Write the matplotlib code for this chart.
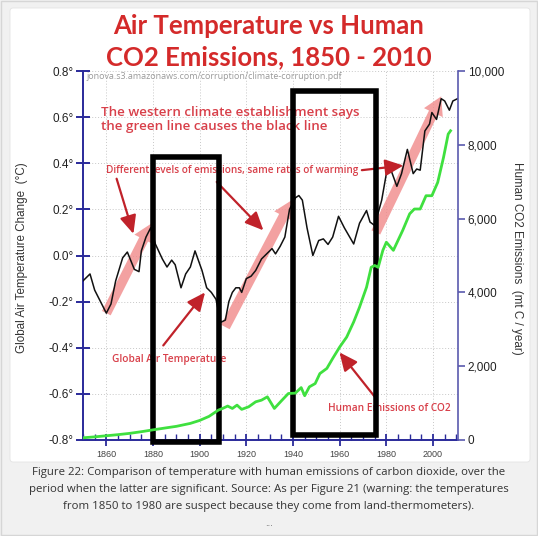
import matplotlib
matplotlib.use("Agg")
import matplotlib.pyplot as plt
from matplotlib.patches import Rectangle, FancyBboxPatch
from matplotlib.ticker import MultipleLocator, FuncFormatter

# global air temperature change (deg C)
temp_years = [1850, 1853, 1855, 1858, 1860, 1862, 1864, 1867, 1869, 1872,
              1874, 1875, 1877, 1879, 1881, 1884, 1886, 1888, 1889.5, 1892,
              1894, 1896, 1898, 1901, 1903, 1905, 1907, 1909, 1911, 1912.5,
              1914, 1915.5, 1917, 1918, 1920, 1922, 1924, 1926.5, 1929, 1931,
              1932.5, 1934.5, 1936.5, 1938.5, 1941, 1942.5, 1944, 1946, 1948.5, 1951,
              1953, 1955, 1957, 1959.5, 1962, 1966, 1968.5, 1971.5, 1973, 1975,
              1978, 1980, 1982, 1984.5, 1986.5, 1989, 1991.5, 1993, 1994.5, 1996.5,
              1998.5, 1999.5, 2001.5, 2003.5, 2005, 2007, 2008.5, 2010.5]
temp_vals = [-0.11, -0.08, -0.15, -0.21, -0.25, -0.21, -0.11, -0.01, 0.015, -0.06,
             -0.07, 0.02, 0.08, 0.12, 0.05, -0.015, -0.05, -0.02, -0.04, -0.14,
             -0.08, -0.05, 0.02, -0.065, -0.14, -0.16, -0.19, -0.29, -0.28, -0.20,
             -0.16, -0.14, -0.14, -0.16, -0.10, -0.09, -0.065, -0.015, 0.01, 0.03,
             0.007, 0.04, 0.08, 0.20, 0.25, 0.26, 0.24, 0.12, 0.0, 0.065,
             0.072, 0.048, 0.08, 0.17, 0.12, 0.05, 0.14, 0.195, 0.145, 0.13,
             0.24, 0.355, 0.37, 0.30, 0.355, 0.46, 0.355, 0.375, 0.37, 0.54,
             0.57, 0.62, 0.59, 0.68, 0.67, 0.63, 0.67, 0.68]

# human CO2 emissions (mt C / year)
co2_years = [1850, 1855, 1860, 1865, 1870, 1875, 1880, 1886, 1890, 1896,
             1900, 1904, 1908, 1910, 1912, 1914, 1916, 1918, 1921, 1924,
             1926.5, 1929, 1932, 1935, 1938, 1941, 1943.5, 1945, 1947, 1949.5,
             1951.5, 1954.5, 1957, 1960, 1963, 1966, 1968.5, 1971.5, 1973.5, 1975,
             1976.5, 1978.5, 1980, 1983, 1987, 1990, 1992, 1994.5, 1997, 1999.5,
             2002, 2004.5, 2006.5, 2007.5]
co2_vals = [60, 85, 115, 145, 180, 225, 275, 333, 370, 450,
            530, 640, 810, 860, 920, 855, 945, 830, 900, 1035,
            1080, 1170, 855, 1060, 1260, 1270, 1420, 1200, 1440, 1530,
            1800, 1940, 2210, 2520, 2790, 3200, 3600, 4140, 4680, 4730,
            4680, 5140, 5360, 5140, 5680, 6130, 6260, 6260, 6620, 6620,
            6980, 7660, 8290, 8380]

# "same rate of warming" arrows: (start year, start temp, end year, end temp)
trend_arrows = [(1860, -0.25, 1879.5, 0.14),
                (1911, -0.31, 1939.5, 0.24),
                (1975.5, 0.10, 2003.5, 0.69)]

# highlighted periods: (year from, year to, temp bottom, temp top)
boxes = [(1879.8, 1908.3, -0.807, 0.426),
         (1939.8, 1975.5, -0.779, 0.714)]

left_ticks = [-0.8, -0.6, -0.4, -0.2, 0.0, 0.2, 0.4, 0.6, 0.8]
right_ticks = [0, 2000, 4000, 6000, 8000, 10000]
year_ticks = [1860, 1880, 1900, 1920, 1940, 1960, 1980, 2000]

RED = '#d42a2a'
NOTE = '#d8404a'
DARKRED = '#c0222a'
BLUE = '#2a2a9a'
BLUE2 = '#5a5aae'

fig = plt.figure(figsize=(5.38, 5.36), dpi=100, facecolor='#f1f1f1')
fig.patches.append(Rectangle((0.002, 0.002), 0.996, 0.996, transform=fig.transFigure,
                             facecolor='none', edgecolor='#d6d6d6', lw=1, zorder=-10))
fig.patches.append(FancyBboxPatch((10 / 538, 1 - 462 / 536), 520 / 538, 454 / 536,
                                  boxstyle='round,pad=0,rounding_size=0.006',
                                  transform=fig.transFigure, facecolor='white',
                                  edgecolor='#e4e4e4', lw=0.6, zorder=-10))

ax = fig.add_axes([83 / 538, 1 - 440 / 536, 375 / 538, 369 / 536])
ax.set_facecolor('none')
ax.set_xlim(1850, 2010.7)
ax.set_ylim(-0.8, 0.8)

ax2 = ax.twinx()
ax2.set_ylim(0, 10000)

# grid
for yr in year_ticks:
    ax.axvline(yr, color='#c8c8c8', lw=0.7, ls=(0, (1, 2)), zorder=0)
for t in left_ticks[1:]:
    ax.axhline(t, color='#c8c8c8', lw=0.7, ls=(0, (1, 2)), zorder=0)

# pink trend arrows
for x0, y0, x1, y1 in trend_arrows:
    ax.annotate('', xy=(x1, y1), xytext=(x0, y0), zorder=1,
                arrowprops=dict(arrowstyle='simple,head_width=1.5,head_length=1.3,tail_width=0.7',
                                color='#f08a8a', alpha=0.8, lw=0, shrinkA=0, shrinkB=0,
                                mutation_scale=10))

ax.plot(temp_years, temp_vals, color='#111111', lw=1.1, zorder=3)
ax2.plot(co2_years, co2_vals, color='#3fe03f', lw=2.0, zorder=3)

# spines and ticks
for s in ['top']:
    ax.spines[s].set_visible(False)
    ax2.spines[s].set_visible(False)
ax.spines['left'].set_color(BLUE)
ax.spines['left'].set_linewidth(1.4)
ax.spines['bottom'].set_color(BLUE)
ax.spines['bottom'].set_linewidth(1.4)
ax.spines['right'].set_visible(False)
ax2.spines['left'].set_visible(False)
ax2.spines['bottom'].set_visible(False)
ax2.spines['right'].set_color(BLUE2)
ax2.spines['right'].set_linewidth(1.2)

ax.set_yticks(left_ticks)
ax.yaxis.set_major_formatter(FuncFormatter(lambda v, p: f'{v:.1f}\u00b0'))
ax.tick_params(axis='y', direction='inout', length=10, width=1.4, color=BLUE,
               labelsize=8.5, labelcolor='#222222', pad=2)
ax.set_xticks(year_ticks)
ax.xaxis.set_minor_locator(MultipleLocator(5))
ax.tick_params(axis='x', which='major', direction='inout', length=9, width=1.3,
               color=BLUE, labelsize=6.5, labelcolor='#444444', pad=3)
ax.tick_params(axis='x', which='minor', direction='in', length=4, width=1.0, color=BLUE)

ax2.set_yticks(right_ticks)
ax2.yaxis.set_major_formatter(FuncFormatter(lambda v, p: f'{int(v):,}'))
ax2.tick_params(axis='y', direction='out', length=5, width=1.2, color=BLUE2,
                labelsize=8.5, labelcolor='#222222', pad=2)

for lab in ax.get_yticklabels() + ax2.get_yticklabels() + ax.get_xticklabels():
    lab.set_family('Liberation Sans')

fig.text(22 / 538, 1 - 258 / 536, 'Global Air Temperature Change  (\u00b0C)', rotation=90,
         ha='center', va='center', fontsize=8.4, color='#333333', family='Liberation Sans')
fig.text(517 / 538, 1 - 258 / 536, 'Human CO2 Emissions  (mt C / year)', rotation=270,
         ha='center', va='center', fontsize=8.4, color='#333333', family='Liberation Sans')

# annotations
ax.text(1851.7, 0.775, 'jonova.s3.amazonaws.com/corruption/climate-corruption.pdf',
        fontsize=6.4, color='#9a9a9a', va='center', ha='left', family='Open Sans')
ax.text(1857.6, 0.59, 'The western climate establishment says\nthe green line causes the black line',
        fontsize=9.6, color=NOTE, va='center', ha='left', family='Open Sans',
        fontweight='semibold', linespacing=1.15)
ax.text(1859.9, 0.37, 'Different levels of emissions, same rates of warming',
        fontsize=7.2, color=NOTE, va='center', ha='left', family='Open Sans', fontweight='semibold')
ax.text(1862.3, -0.449, 'Global Air Temperature',
        fontsize=7.3, color=NOTE, va='center', ha='left', family='Open Sans', fontweight='semibold')
ax.text(1955.1, -0.662, 'Human Emissions of CO2',
        fontsize=7.3, color=NOTE, va='center', ha='left', family='Open Sans', fontweight='semibold')

red_arrows = [((1864.4, 0.333), (1871.6, 0.094)),
              ((1907.3, 0.319), (1927.3, 0.109)),
              ((1969.5, 0.37), (1987.3, 0.39)),
              ((1884.4, -0.39), (1902.3, -0.16)),
              ((1975.2, -0.615), (1959.9, -0.42))]
for start, end in red_arrows:
    ax.annotate('', xy=end, xytext=start, zorder=4,
                arrowprops=dict(arrowstyle='-|>,head_length=1.1,head_width=0.5', color=DARKRED,
                                lw=1.6, shrinkA=0, shrinkB=0, mutation_scale=10))

for x0, x1, y0, y1 in boxes:
    ax.add_patch(Rectangle((x0, y0), x1 - x0, y1 - y0, fill=False, edgecolor='black',
                           lw=4, zorder=6, clip_on=False))

# title
fig.text(0.5, 1 - 26 / 536, 'Air Temperature vs Human', ha='center', va='center',
         fontsize=18.5, fontweight='bold', color=RED, family='Lato')
fig.text(0.5, 1 - 57 / 536, 'CO2 Emissions, 1850 - 2010', ha='center', va='center',
         fontsize=18.5, fontweight='bold', color=RED, family='Lato')

# caption
caption = ['Figure 22: Comparison of temperature with human emissions of carbon dioxide, over the',
           'period when the latter are significant. Source: As per Figure 21 (warning: the temperatures',
           'from 1850 to 1980 are suspect because they come from land-thermometers).']
for i, line in enumerate(caption):
    fig.text(0.5, 1 - (473 + 16.5 * i) / 536, line, ha='center', va='center',
             fontsize=8.2, color='#333333', family='Open Sans')
fig.text(0.5, 1 - 524 / 536, '...', ha='center', va='center', fontsize=6, color='#555555')

fig.savefig('out.png', dpi=100, facecolor=fig.get_facecolor())
